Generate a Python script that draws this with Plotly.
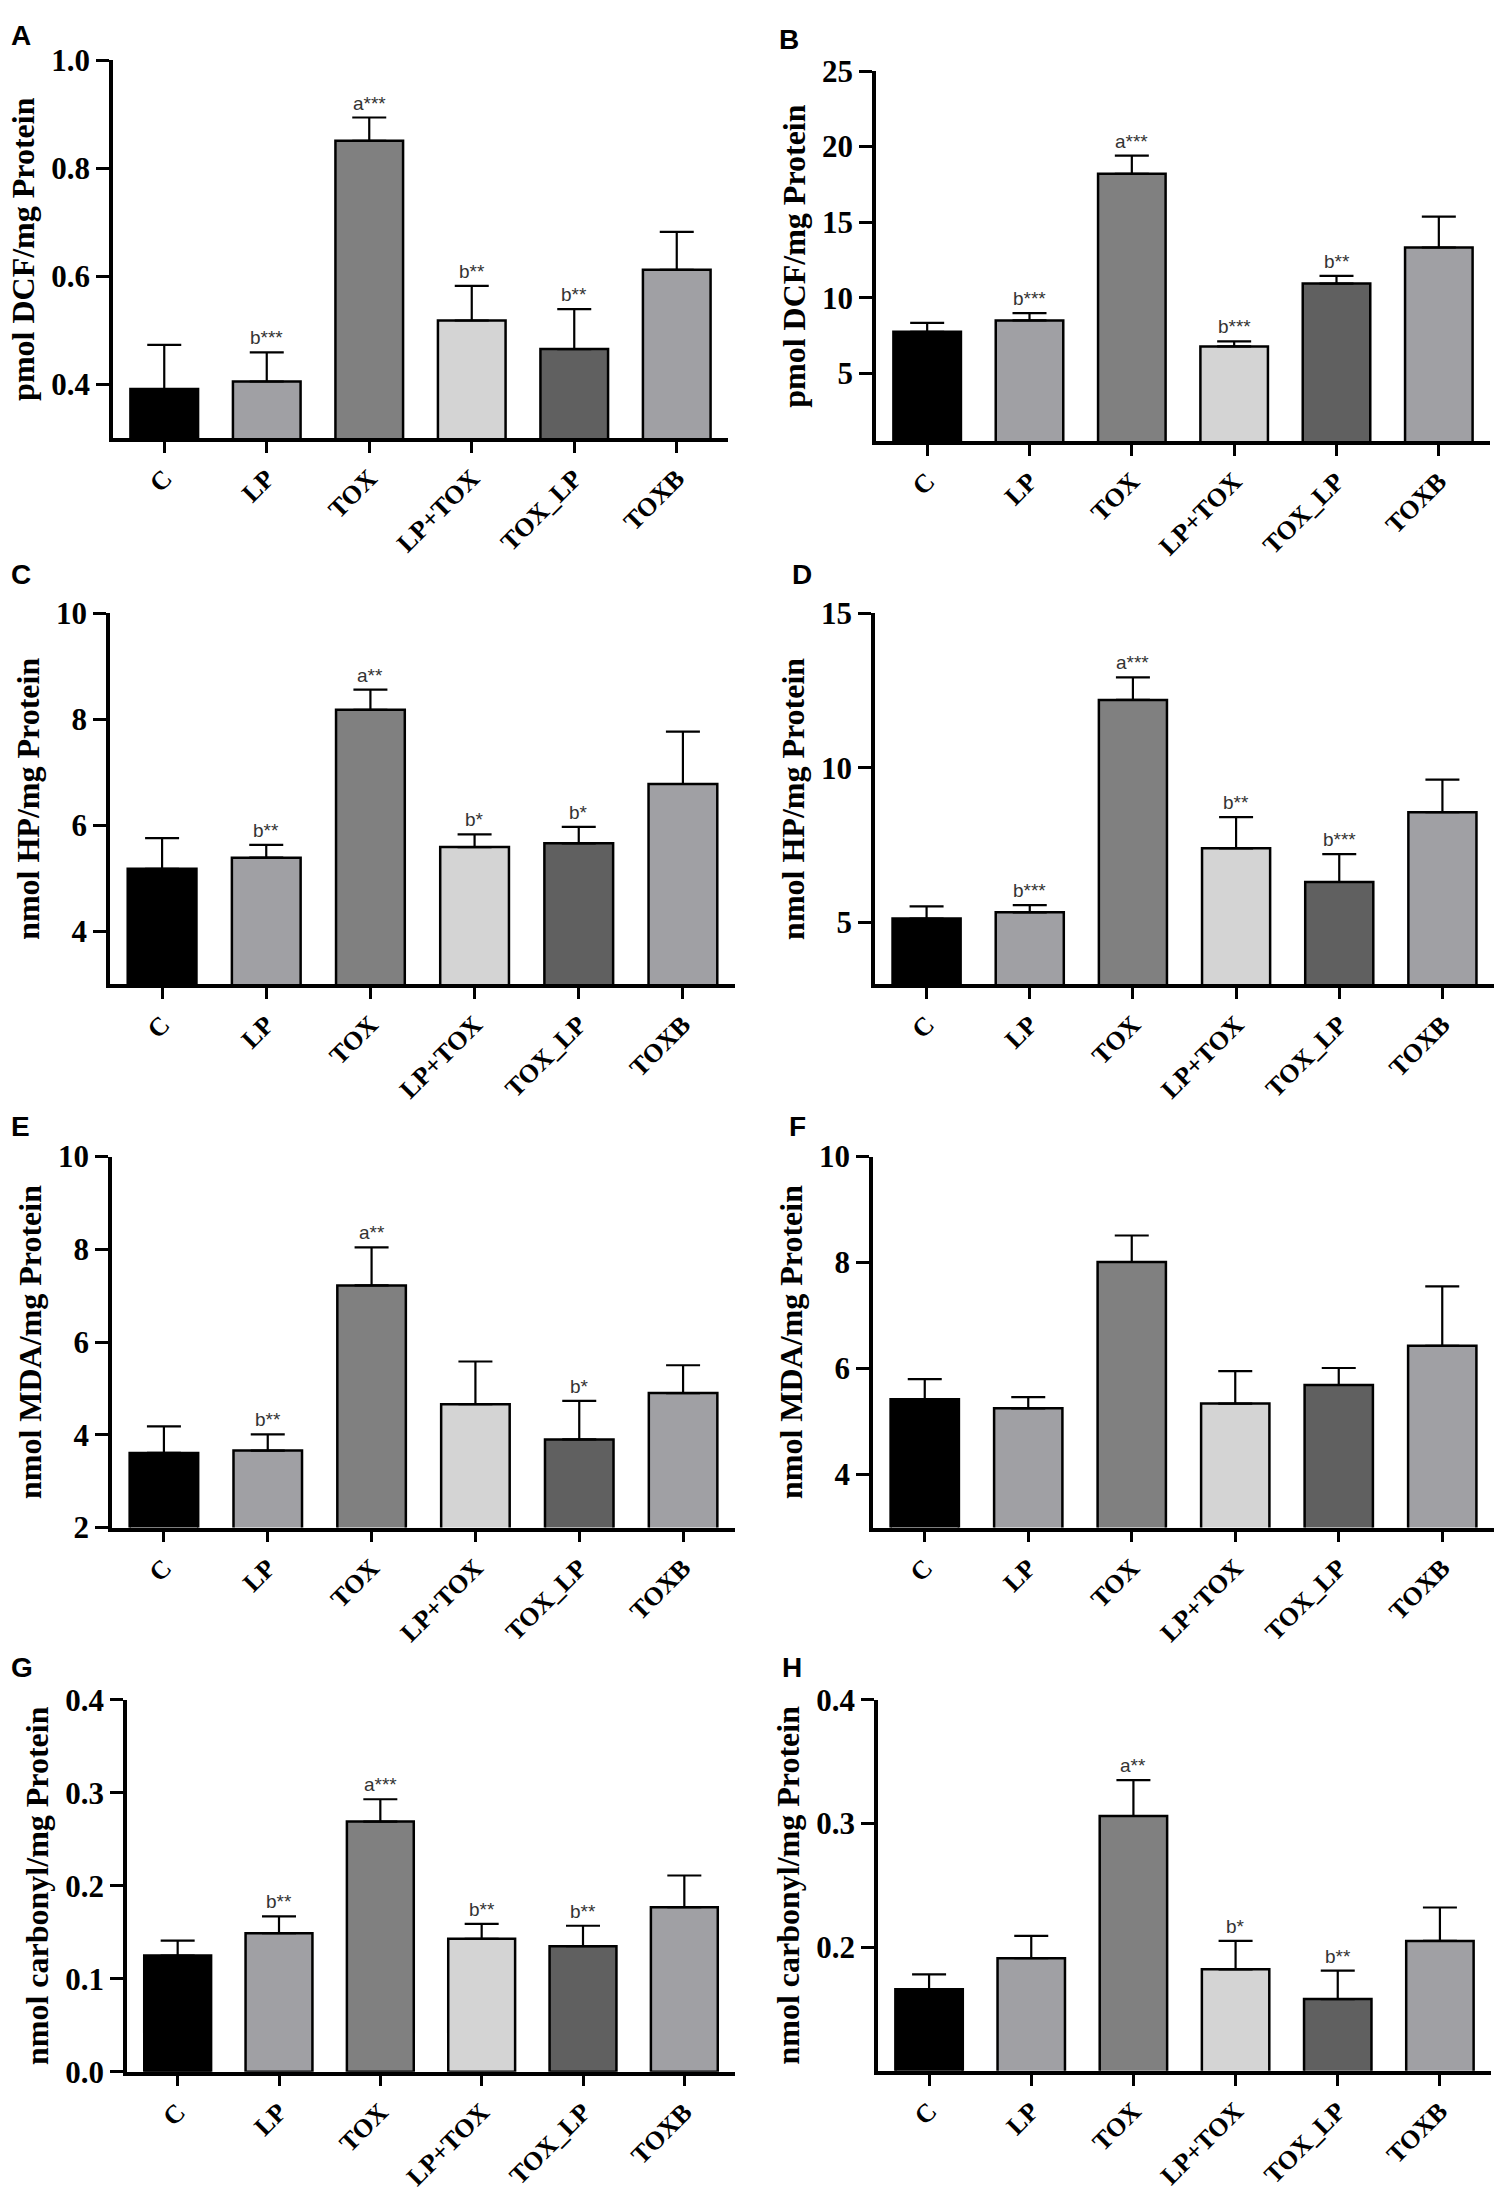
import plotly.graph_objects as go

# Figure size (px)
W, H = 1496, 2197

groups = ["C", "LP", "TOX", "LP+TOX", "TOX_LP", "TOXB"]
bar_colors = ["#000000", "#a0a0a4", "#808080", "#d4d4d4", "#606060", "#a0a0a4"]

# A: ROS (DCF)
a_mean = [0.391, 0.405, 0.851, 0.518, 0.465, 0.612]
a_sem = [0.082, 0.054, 0.043, 0.064, 0.074, 0.070]
a_sig = ["", "b***", "a***", "b**", "b**", ""]

# B: ROS (DCF)
b_mean = [7.74, 8.49, 18.2, 6.77, 10.93, 13.32]
b_sem = [0.59, 0.49, 1.21, 0.34, 0.51, 2.05]
b_sig = ["", "b***", "a***", "b***", "b**", ""]

# C: hydroperoxides
c_mean = [5.18, 5.39, 8.18, 5.59, 5.66, 6.78]
c_sem = [0.58, 0.24, 0.38, 0.24, 0.31, 0.99]
c_sig = ["", "b**", "a**", "b*", "b*", ""]

# D: hydroperoxides
d_mean = [5.13, 5.33, 12.2, 7.40, 6.31, 8.57]
d_sem = [0.39, 0.23, 0.73, 1.01, 0.90, 1.05]
d_sig = ["", "b***", "a***", "b**", "b***", ""]

# E: MDA
e_mean = [3.61, 3.66, 7.22, 4.66, 3.90, 4.90]
e_sem = [0.57, 0.35, 0.82, 0.92, 0.83, 0.60]
e_sig = ["", "b**", "a**", "", "b*", ""]

# F: MDA
f_mean = [5.42, 5.25, 8.01, 5.34, 5.69, 6.43]
f_sem = [0.38, 0.21, 0.50, 0.61, 0.32, 1.12]
f_sig = ["", "", "", "", "", ""]

# G: carbonyls
g_mean = [0.125, 0.149, 0.269, 0.143, 0.135, 0.177]
g_sem = [0.016, 0.018, 0.024, 0.016, 0.022, 0.034]
g_sig = ["", "b**", "a***", "b**", "b**", ""]

# H: carbonyls
h_mean = [0.166, 0.191, 0.306, 0.182, 0.158, 0.205]
h_sem = [0.012, 0.018, 0.029, 0.023, 0.023, 0.027]
h_sig = ["", "", "a**", "b*", "b**", ""]

panels = [
    ("A", a_mean, a_sem, a_sig, "pmol DCF/mg Protein", [0.3, 1.0], [0.4, 0.6, 0.8, 1.0], ".1f"),
    ("B", b_mean, b_sem, b_sig, "pmol DCF/mg Protein", [0.5, 25], [5, 10, 15, 20, 25], "d"),
    ("C", c_mean, c_sem, c_sig, "nmol HP/mg Protein", [3, 10], [4, 6, 8, 10], "d"),
    ("D", d_mean, d_sem, d_sig, "nmol HP/mg Protein", [3, 15], [5, 10, 15], "d"),
    ("E", e_mean, e_sem, e_sig, "nmol MDA/mg Protein", [2, 10], [2, 4, 6, 8, 10], "d"),
    ("F", f_mean, f_sem, f_sig, "nmol MDA/mg Protein", [3, 10], [4, 6, 8, 10], "d"),
    ("G", g_mean, g_sem, g_sig, "nmol carbonyl/mg Protein", [0, 0.4], [0.0, 0.1, 0.2, 0.3, 0.4], ".1f"),
    ("H", h_mean, h_sem, h_sig, "nmol carbonyl/mg Protein", [0.1, 0.4], [0.2, 0.3, 0.4], ".1f"),
]

# plot boxes in px: left, right, top, bottom
boxes = {
    "A": (113, 728, 44, 428),
    "B": (876, 1490, 55, 431),
    "C": (110, 735, 606, 983),
    "D": (875, 1494, 606, 983),
    "E": (112, 735, 1158, 1535),
    "F": (873, 1494, 1158, 1535),
    "G": (127, 735, 1710, 2088),
    "H": (878, 1491, 1710, 2087),
}
# panel letter top-left in px
letter_pos = {
    "A": (9, 1), "B": (777, 5), "C": (9, 549), "D": (790, 549),
    "E": (9, 1110), "F": (787, 1110), "G": (9, 1659), "H": (780, 1659),
}

serif = "Liberation Serif, Times New Roman, serif"
sans = "Liberation Sans, Arial, sans-serif"

fig = go.Figure()
annotations = []
layout_axes = {}

for i, (letter, mean, sem, sig, ytitle, yrng, yticks, fmt) in enumerate(panels, start=1):
    x0, x1, y0, y1 = boxes[letter]
    xa = "x" if i == 1 else f"x{i}"
    ya = "y" if i == 1 else f"y{i}"

    fig.add_trace(go.Bar(
        x=groups, y=mean, xaxis=xa, yaxis=ya, width=0.66, showlegend=False,
        marker=dict(color=bar_colors, line=dict(color="black", width=2.5)),
        error_y=dict(type="data", array=sem, arrayminus=[0] * len(sem), symmetric=False,
                     color="black", thickness=2.2, width=17),
    ))

    layout_axes["xaxis" if i == 1 else f"xaxis{i}"] = dict(
        domain=[x0 / W, x1 / W], anchor=ya, range=[-0.5, 5.5],
        showline=True, linecolor="black", linewidth=3.5, mirror=False,
        ticks="outside", ticklen=11, tickwidth=3, tickcolor="black",
        tickangle=-45, showgrid=False, zeroline=False,
        tickfont=dict(family=serif, size=26, color="black", weight="bold"),
    )
    layout_axes["yaxis" if i == 1 else f"yaxis{i}"] = dict(
        domain=[1 - y1 / H, 1 - y0 / H], anchor=xa, range=yrng,
        tickvals=yticks, tickformat=fmt,
        showline=True, linecolor="black", linewidth=3.5,
        ticks="outside", ticklen=13, tickwidth=3, tickcolor="black",
        showgrid=False, zeroline=False,
        tickfont=dict(family=serif, size=31, color="black", weight="bold"),
        title=dict(text=ytitle, standoff=8,
                   font=dict(family=serif, size=32, color="black", weight="bold")),
    )

    for g, m, s, t in zip(groups, mean, sem, sig):
        if t:
            annotations.append(dict(
                x=g, y=m + s, xref=xa, yref=ya, text=t, showarrow=False,
                yanchor="bottom", yshift=2,
                font=dict(family=sans, size=19, color="#333333"),
            ))

    lx, ly = letter_pos[letter]
    annotations.append(dict(
        x=lx / W, y=1 - ly / H, xref="paper", yref="paper", text=letter,
        showarrow=False, xanchor="left", yanchor="top",
        font=dict(family=sans, size=28, color="black", weight="bold"),
    ))

fig.update_layout(
    width=W, height=H,
    margin=dict(l=0, r=0, t=0, b=0),
    paper_bgcolor="white", plot_bgcolor="white",
    annotations=annotations,
    **layout_axes,
)

fig.write_html("out.html", config={"displayModeBar": False},
               post_script="document.body.style.margin='0';")
